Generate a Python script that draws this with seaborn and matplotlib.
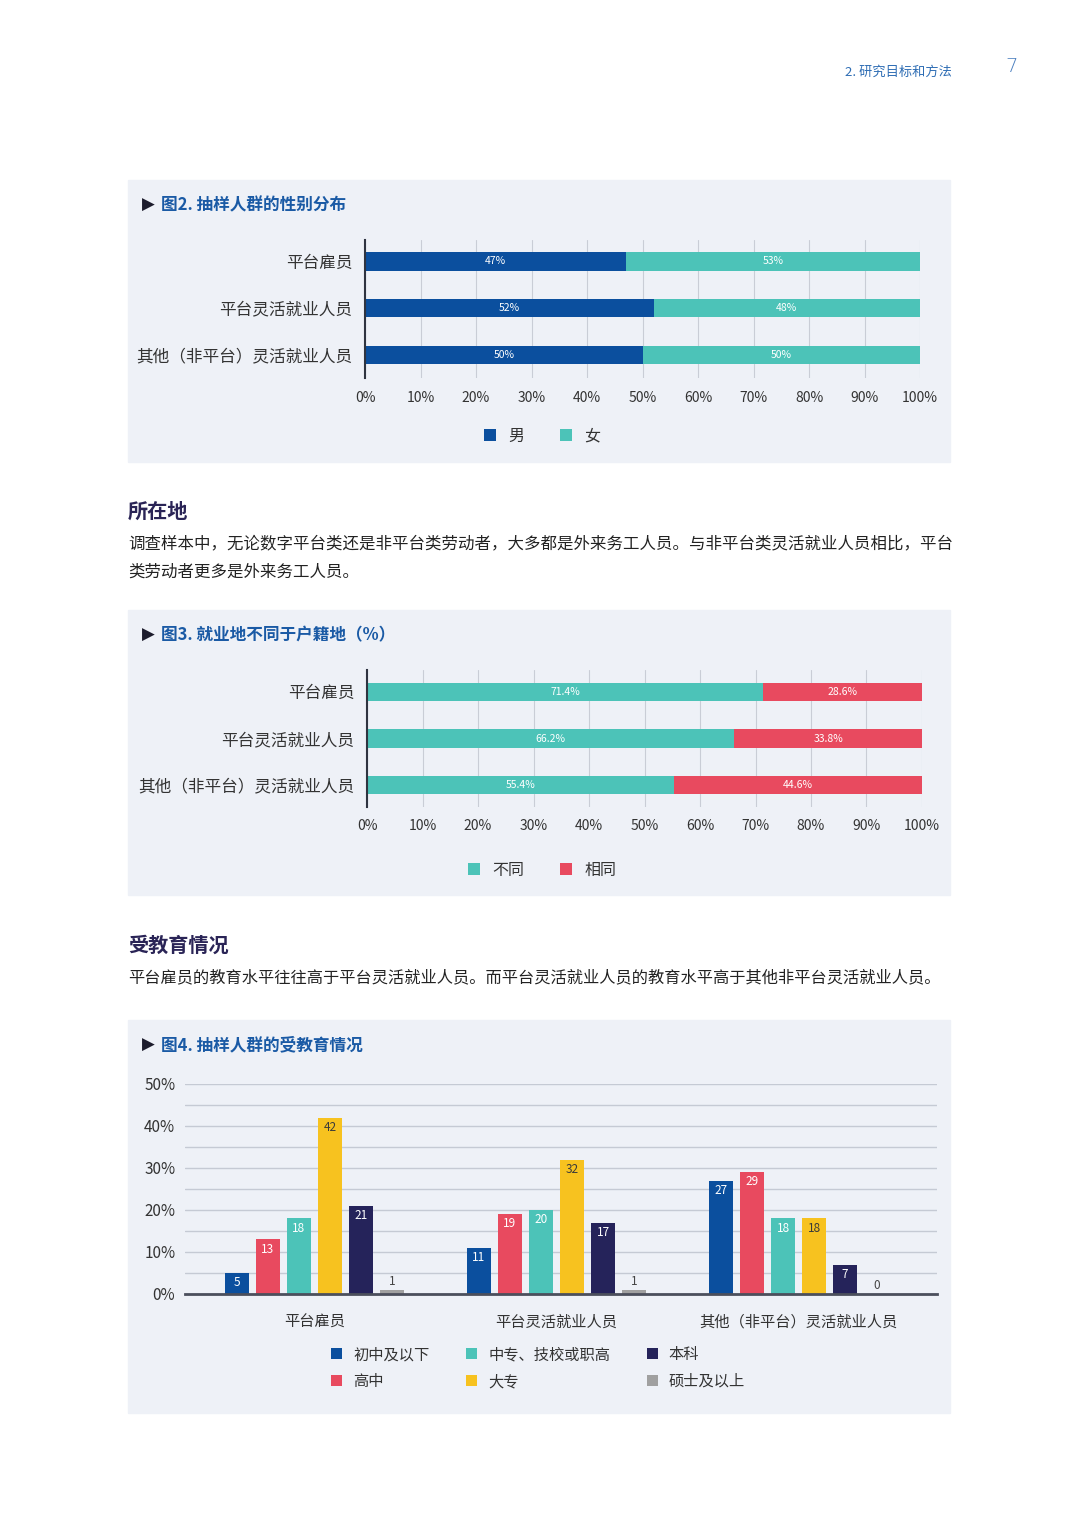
import matplotlib
matplotlib.use('Agg')
import matplotlib.pyplot as plt
from matplotlib.patches import Rectangle, Patch
import pandas as pd
import seaborn as sns

# ---- 数据 ----
groups = ['平台雇员', '平台灵活就业人员', '其他（非平台）灵活就业人员']

gender_names = ['男', '女']
gender_male = [47, 52, 50]
gender_female = [53, 48, 50]

place_names = ['不同', '相同']
place_diff = [71.4, 66.2, 55.4]
place_same = [28.6, 33.8, 44.6]

edu_levels = ['初中及以下', '高中', '中专、技校或职高', '大专', '本科', '硕士及以上']
edu_employee = [5, 13, 18, 42, 21, 1]
edu_platform = [11, 19, 20, 32, 17, 1]
edu_other = [27, 29, 18, 18, 7, 0]

# ---- 样式 ----
BLUE = '#0b4f9e'
TEAL = '#4cc3b8'
RED = '#e84a5f'
YELLOW = '#f7c21f'
NAVY = '#25235a'
GRAY = '#a0a0a0'
BG = '#eef1f7'
TITLE_C = '#1a5aa5'
edu_colors = [BLUE, RED, TEAL, YELLOW, NAVY, GRAY]

W, H = 1080, 1526
sns.set_theme(style='white')
plt.rcParams['font.family'] = ['Noto Sans CJK SC', 'DejaVu Sans']
plt.rcParams['axes.unicode_minus'] = False

fig = plt.figure(figsize=(W / 100, H / 100), dpi=100, facecolor='white')


def ftext(x, y, s, **kw):
    kw.setdefault('va', 'center')
    return fig.text(x / W, 1 - y / H, s, **kw)


def fig_ax(left, top, right, bottom):
    ax = fig.add_axes([left / W, 1 - bottom / H, (right - left) / W, (bottom - top) / H])
    ax.set_facecolor('none')
    return ax


def panel(x0, y0, x1, y1):
    fig.add_artist(Rectangle((x0 / W, 1 - y1 / H), (x1 - x0) / W, (y1 - y0) / H,
                             transform=fig.transFigure, color=BG, zorder=-5))


def panel_title(y, s):
    ftext(142, y, '▶', size=12, color='#1c1c2c', family=['DejaVu Sans'])
    ftext(161, y, s, size=12, color=TITLE_C, fontweight='bold')


def square_handles(colors):
    return [Patch(facecolor=c, edgecolor='none') for c in colors]


def stacked_hbar(box, left_vals, right_vals, names, colors, ylim, legend_y):
    ax = fig_ax(*box)
    df = pd.DataFrame({'group': groups, 'left': left_vals,
                       'total': [a + b for a, b in zip(left_vals, right_vals)]})
    sns.barplot(data=df, x='total', y='group', color=colors[1], saturation=1,
                width=0.4, orient='h', linewidth=0, edgecolor='none', ax=ax)
    sns.barplot(data=df, x='left', y='group', color=colors[0], saturation=1,
                width=0.4, orient='h', linewidth=0, edgecolor='none', ax=ax)
    for i, (a, b) in enumerate(zip(left_vals, right_vals)):
        ax.text(a / 2, i, f'{a:g}%', ha='center', va='center', color='white', fontsize=7.5)
        ax.text(a + b / 2, i, f'{b:g}%', ha='center', va='center', color='white', fontsize=7.5)
    ax.set_xlim(0, 100)
    ax.set_ylim(*ylim)
    ax.set_xticks(range(0, 101, 10))
    ax.set_xticklabels([f'{t}%' for t in range(0, 101, 10)])
    ax.xaxis.grid(True, color='#c9cdd6', lw=0.8)
    ax.yaxis.grid(False)
    ax.set_axisbelow(True)
    ax.set_xlabel('')
    ax.set_ylabel('')
    ax.tick_params(axis='x', length=0, pad=9, labelsize=10, labelcolor='#333333')
    ax.tick_params(axis='y', length=0, pad=9, labelsize=12, labelcolor='#333333')
    for s in ['top', 'right', 'bottom']:
        ax.spines[s].set_visible(False)
    ax.spines['left'].set_color('#2f3440')
    ax.spines['left'].set_linewidth(1.5)
    fig.legend(square_handles(colors), names, loc='center',
               bbox_to_anchor=(542 / W, 1 - legend_y / H),
               ncol=2, frameon=False, handlelength=0.75, handleheight=0.75,
               columnspacing=2.2, handletextpad=0.8, fontsize=11.5,
               labelcolor='#333333')
    return ax


# ---- 页眉 ----
ftext(845, 72, '2. 研究目标和方法', size=9.5, color='#2e6db4')
ftext(1005, 67, '7', size=14, color='#4a7fbf', family=['DejaVu Sans'], fontweight='light')

# ---- 图2 ----
panel(128, 180, 950, 462)
panel_title(205, '图2. 抽样人群的性别分布')
stacked_hbar((365, 240, 920, 378), gender_male, gender_female, gender_names,
             [BLUE, TEAL], (2.49, -0.45), 436)

# ---- 所在地 ----
ftext(128, 511, '所在地', size=14.5, fontweight='bold', color='#2a2456')
ftext(128, 544, '调查样本中，无论数字平台类还是非平台类劳动者，大多都是外来务工人员。与非平台类灵活就业人员相比，平台',
      size=11.85, color='#222222')
ftext(128, 572, '类劳动者更多是外来务工人员。', size=11.85, color='#222222')

# ---- 图3 ----
panel(128, 610, 950, 895)
panel_title(635, '图3. 就业地不同于户籍地（%）')
stacked_hbar((367, 670, 922, 807), place_diff, place_same, place_names,
             [TEAL, RED], (2.47, -0.47), 870)

# ---- 受教育情况 ----
ftext(128, 945, '受教育情况', size=14.5, fontweight='bold', color='#2a2456')
ftext(128, 978, '平台雇员的教育水平往往高于平台灵活就业人员。而平台灵活就业人员的教育水平高于其他非平台灵活就业人员。',
      size=11.7, color='#222222')

# ---- 图4 ----
panel(128, 1020, 950, 1413)
panel_title(1045, '图4. 抽样人群的受教育情况')
ax3 = fig_ax(185, 1084, 937, 1294)
rows = []
for g, vals in zip(groups, [edu_employee, edu_platform, edu_other]):
    for lvl, v in zip(edu_levels, vals):
        rows.append({'group': g, 'level': lvl, 'value': v})
df3 = pd.DataFrame(rows)
sns.barplot(data=df3, x='group', y='value', hue='level', hue_order=edu_levels,
            palette=edu_colors, saturation=1, width=0.77, gap=0.23,
            errorbar=None, linewidth=0, edgecolor='none', legend=False, ax=ax3)

for container, lvl, color in zip(ax3.containers, edu_levels, edu_colors):
    vals = df3[df3['level'] == lvl]['value'].tolist()
    for bar, v in zip(container, vals):
        x = bar.get_x() + bar.get_width() / 2
        h = bar.get_height()
        if v >= 3:
            tc = '#3a3a3a' if color == YELLOW else 'white'
            ax3.annotate(f'{v}', (x, h), xytext=(0, -7), textcoords='offset points',
                         ha='center', va='center', color=tc, fontsize=8.5)
        else:
            ax3.annotate(f'{v}', (x, h), xytext=(0, 1.5), textcoords='offset points',
                         ha='center', va='bottom', color='#444444', fontsize=8.5)

ax3.set_xlim(-0.535, 2.572)
ax3.set_ylim(0, 50)
ax3.set_yticks(range(0, 51, 10))
ax3.set_yticklabels([f'{t}%' for t in range(0, 51, 10)])
ax3.set_yticks(range(5, 50, 10), minor=True)
ax3.yaxis.grid(True, which='both', color='#c5cad4', lw=1)
ax3.xaxis.grid(False)
ax3.set_axisbelow(True)
ax3.set_xlabel('')
ax3.set_ylabel('')
ax3.tick_params(axis='x', length=0, pad=14, labelsize=11, labelcolor='#333333')
ax3.tick_params(axis='y', which='both', length=0, pad=7, labelsize=11, labelcolor='#333333')
for s in ['top', 'right', 'left']:
    ax3.spines[s].set_visible(False)
ax3.spines['bottom'].set_color('#4b4f5c')
ax3.spines['bottom'].set_linewidth(2)

fig.legend(square_handles(edu_colors), edu_levels, loc='center',
           bbox_to_anchor=(538 / W, 1 - 1368 / H),
           ncol=3, frameon=False, handlelength=0.75, handleheight=0.75,
           columnspacing=2.4, handletextpad=0.7, labelspacing=0.65, fontsize=11,
           labelcolor='#333333')

fig.savefig('out.png', dpi=100, facecolor='white')
